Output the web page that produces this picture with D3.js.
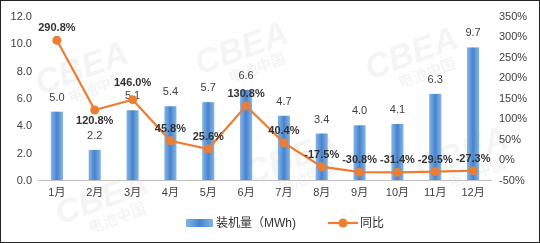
<!DOCTYPE html>
<html>
<head>
<meta charset="utf-8">
<script src="https://cdn.jsdelivr.net/npm/d3@7"></script>
<style>
  body { margin: 0; background: #fff; }
  text { font-family: "Liberation Sans", "Noto Sans CJK SC", sans-serif; }
</style>
</head>
<body>
<div id="chart"></div>
<script>
const months = ["1月", "2月", "3月", "4月", "5月", "6月", "7月", "8月", "9月", "10月", "11月", "12月"];
const installed = [5.0, 2.2, 5.1, 5.4, 5.7, 6.6, 4.7, 3.4, 4.0, 4.1, 6.3, 9.7];
const yoy = [290.8, 120.8, 146.0, 45.8, 25.6, 130.8, 40.4, -17.5, -30.8, -31.4, -29.5, -27.3];
const leftTicks = [0, 2, 4, 6, 8, 10, 12];
const rightTicks = [-50, 0, 50, 100, 150, 200, 250, 300, 350];

const width = 540, height = 243;
const margin = {top: 16, right: 48, bottom: 63, left: 38};

const svg = d3.select("#chart").append("svg")
  .attr("width", width)
  .attr("height", height);

// bar gradient, excel style
const grad = svg.append("defs").append("linearGradient")
  .attr("id", "barGrad")
  .attr("x1", "0%").attr("x2", "100%");
grad.append("stop").attr("offset", "0%").attr("stop-color", "#86b5e6");
grad.append("stop").attr("offset", "50%").attr("stop-color", "#4683ce");
grad.append("stop").attr("offset", "100%").attr("stop-color", "#86b5e6");

// frame
svg.append("rect")
  .attr("x", 0.5).attr("y", 0.5)
  .attr("width", width - 1).attr("height", height - 1)
  .attr("fill", "#fff")
  .attr("stroke", "#222");

const x = d3.scaleBand()
  .domain(months)
  .range([margin.left, width - margin.right])
  .paddingInner(0.68)
  .paddingOuter(0.34);

const plotBottom = 180;
const y = d3.scaleLinear().domain([0, 12]).range([plotBottom, margin.top]);
const y2 = d3.scaleLinear().domain([-50, 350]).range([plotBottom, margin.top]);

// faint watermarks
const wm = svg.append("g").attr("fill", "#000").attr("opacity", 0.045)
  .attr("font-weight", "bold");
[[40, 95], [200, 75], [370, 80], [250, 185], [420, 180], [60, 225]].forEach(([wx, wy]) => {
  const g = wm.append("g").attr("transform", `translate(${wx},${wy}) rotate(-20)`);
  g.append("text").attr("font-size", 34).attr("font-style", "italic").text("CBEA");
  g.append("text").attr("y", 18).attr("x", 26).attr("font-size", 15).text("电池中国");
});

// left axis
svg.append("g")
  .selectAll("text")
  .data(leftTicks)
  .join("text")
    .attr("x", 32)
    .attr("y", d => y(d))
    .attr("dy", "0.35em")
    .attr("text-anchor", "end")
    .attr("font-size", 11)
    .attr("fill", "#404040")
    .text(d => d.toFixed(1));

// right axis
svg.append("g")
  .selectAll("text")
  .data(rightTicks)
  .join("text")
    .attr("x", 499)
    .attr("y", d => y2(d))
    .attr("dy", "0.35em")
    .attr("text-anchor", "start")
    .attr("font-size", 11)
    .attr("fill", "#404040")
    .text(d => d + "%");

// bars
svg.append("g")
  .selectAll("rect")
  .data(installed)
  .join("rect")
    .attr("x", (d, i) => x(months[i]))
    .attr("y", d => y(d))
    .attr("width", x.bandwidth())
    .attr("height", d => y(0) - y(d))
    .attr("fill", "url(#barGrad)");

// baseline
svg.append("line")
  .attr("x1", margin.left).attr("x2", width - margin.right)
  .attr("y1", plotBottom + 0.5).attr("y2", plotBottom + 0.5)
  .attr("stroke", "#bfbfbf");

// month labels
svg.append("g")
  .selectAll("text")
  .data(months)
  .join("text")
    .attr("x", d => x(d) + x.bandwidth() / 2)
    .attr("y", 196)
    .attr("text-anchor", "middle")
    .attr("font-size", 11)
    .attr("fill", "#404040")
    .text(d => d);

// bar labels
svg.append("g")
  .selectAll("text")
  .data(installed)
  .join("text")
    .attr("x", (d, i) => x(months[i]) + x.bandwidth() / 2)
    .attr("y", d => y(d) - 11)
    .attr("text-anchor", "middle")
    .attr("font-size", 11)
    .attr("fill", "#404040")
    .text(d => d.toFixed(1));

// line
const cx = i => x(months[i]) + x.bandwidth() / 2;
const line = d3.line()
  .x((d, i) => cx(i))
  .y(d => y2(d));

svg.append("path")
  .datum(yoy)
  .attr("d", line)
  .attr("fill", "none")
  .attr("stroke", "#ed7d31")
  .attr("stroke-width", 2.2);

svg.append("g")
  .selectAll("circle")
  .data(yoy)
  .join("circle")
    .attr("cx", (d, i) => cx(i))
    .attr("cy", d => y2(d))
    .attr("r", 4.5)
    .attr("fill", "#ed7d31");

// line labels (2月 sits under its point, 3月 is lifted clear of the bar label)
svg.append("g")
  .selectAll("text")
  .data(yoy)
  .join("text")
    .attr("x", (d, i) => cx(i))
    .attr("y", (d, i) => i === 1 ? y2(d) + 14 : i === 2 ? y2(d) - 14 : y2(d) - 9)
    .attr("text-anchor", "middle")
    .attr("font-size", 11)
    .attr("font-weight", "bold")
    .attr("fill", "#333")
    .text(d => d.toFixed(1) + "%");

// legend
const leg = svg.append("g");
leg.append("rect")
  .attr("x", 186).attr("y", 219)
  .attr("width", 27).attr("height", 8)
  .attr("fill", "url(#barGrad)");
leg.append("text")
  .attr("x", 216).attr("y", 227)
  .attr("font-size", 12)
  .attr("fill", "#333")
  .text("装机量（MWh)");
leg.append("line")
  .attr("x1", 328).attr("x2", 358)
  .attr("y1", 223).attr("y2", 223)
  .attr("stroke", "#ed7d31")
  .attr("stroke-width", 2.2);
leg.append("circle")
  .attr("cx", 343).attr("cy", 223)
  .attr("r", 4.5)
  .attr("fill", "#ed7d31");
leg.append("text")
  .attr("x", 360).attr("y", 227)
  .attr("font-size", 12)
  .attr("fill", "#333")
  .text("同比");
</script>
</body>
</html>
